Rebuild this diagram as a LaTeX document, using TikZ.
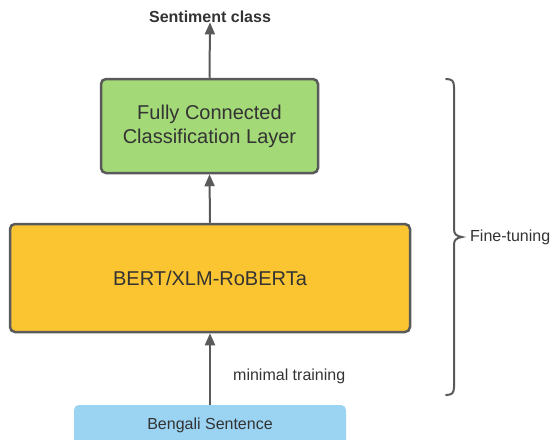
\documentclass[tikz,border=0pt]{standalone}
\usepackage{fontspec}
\setmainfont{Liberation Sans}
\usetikzlibrary{arrows.meta}
\definecolor{edge}{HTML}{5A5A5A}
\definecolor{txt}{HTML}{333333}
\definecolor{fcgreen}{HTML}{A3D977}
\definecolor{bertorange}{HTML}{FBC532}
\definecolor{inblue}{HTML}{9BD3F2}
\tikzset{
  box/.style={draw=edge, line width=2.5pt, rounded corners=5pt, text=txt, align=center, inner sep=0pt},
  arr/.style={draw=edge, line width=2pt, -{Triangle[width=10pt,length=12pt]}},
  lbl/.style={text=txt, inner sep=0pt},
}
\begin{document}
\begin{tikzpicture}[x=1pt,y=-1pt]
\useasboundingbox (0,0) rectangle (559,439);
\clip (0,0) rectangle (559,439);
% boxes
\node[box, fill=fcgreen, minimum width=217pt, minimum height=94pt, font=\fontsize{20}{24}\selectfont] (fc) at (209.5,126) {Fully Connected\\Classification Layer};
\node[box, fill=bertorange, minimum width=400pt, minimum height=108pt, font=\fontsize{20}{24}\selectfont] (bert) at (210,278) {BERT/XLM-RoBERTa};
\fill[inblue, rounded corners=5pt] (74,405) rectangle (346,450);
\node[lbl, anchor=base, font=\fontsize{16}{19}\selectfont] (in) at (210,429) {Bengali Sentence};
\coordinate (intop) at (210,405);
% top label
\node[lbl, anchor=base, font=\fontsize{16}{19}\selectfont\bfseries] (out) at (210,22) {Sentiment class};
% arrows
\draw[arr] (fc.north) -- (out.south);
\draw[arr] (bert.north) -- (fc.south);
\draw[arr] (intop) -- (bert.south);
\node[lbl, anchor=west, font=\fontsize{16}{19}\selectfont] (mt) at (233,376) {minimal training};
% brace
\draw[edge, line width=2pt, line cap=round]
  (446,79) .. controls (452,79) and (454,81) .. (454,87)
  -- (454,229) .. controls (454,234) and (456,236) .. (462,237)
  .. controls (456,238) and (454,240) .. (454,245)
  -- (454,387) .. controls (454,393) and (452,395) .. (446,395);
\node[lbl, anchor=west, font=\fontsize{16}{19}\selectfont] (ft) at (470,237) {Fine-tuning};
\end{tikzpicture}
\end{document}
